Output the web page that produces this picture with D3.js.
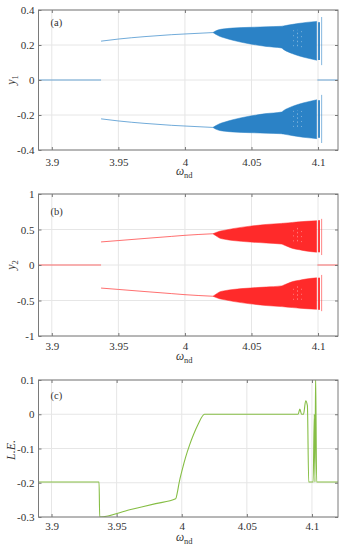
<!DOCTYPE html>
<html>
<head>
<meta charset="utf-8">
<script src="https://cdn.jsdelivr.net/npm/d3@7"></script>
<style>
  body { margin: 0; background: #fff; }
  svg text { font-family: "Liberation Serif", "Times New Roman", serif; fill: #333; }
</style>
</head>
<body>
<svg id="chart" width="346" height="550"></svg>
<script>
// x ticks shared by the three panels
const xTicks = [3.9, 3.95, 4, 4.05, 4.1];
const xTickLabels = ["3.9", "3.95", "4", "4.05", "4.1"];

// segments lying on y = 0 (stable equilibrium)
const zeroStart = [3.89, 4.0995];
const zeroEnd = [3.937, 4.115];

// period-1 branch
const branchW = [3.937, 3.95, 3.97, 3.99, 4.0, 4.021];
const branchA_up = [0.222, 0.234, 0.248, 0.259, 0.263, 0.271];
const branchA_lo = [-0.222, -0.234, -0.248, -0.259, -0.263, -0.271];
const branchB_up = [0.325, 0.344, 0.374, 0.403, 0.418, 0.44];
const branchB_lo = [-0.325, -0.344, -0.374, -0.403, -0.418, -0.44];

// quasi-periodic / chaotic band envelopes
const bandW = [4.021, 4.023, 4.026, 4.03, 4.036, 4.049, 4.061, 4.0725, 4.074, 4.081, 4.086, 4.091, 4.099];
const bandA_upTop = [0.271, 0.280, 0.288, 0.293, 0.297, 0.301, 0.304, 0.307, 0.309, 0.318, 0.324, 0.329, 0.335];
const bandA_upBot = [0.271, 0.262, 0.250, 0.240, 0.227, 0.206, 0.192, 0.183, 0.175, 0.150, 0.137, 0.127, 0.113];
const bandA_loTop = [-0.271, -0.262, -0.250, -0.240, -0.227, -0.206, -0.192, -0.183, -0.175, -0.150, -0.137, -0.127, -0.113];
const bandA_loBot = [-0.271, -0.280, -0.288, -0.293, -0.297, -0.301, -0.304, -0.307, -0.309, -0.318, -0.324, -0.329, -0.335];
const bandB_upTop = [0.44, 0.455, 0.475, 0.49, 0.512, 0.547, 0.571, 0.586, 0.588, 0.600, 0.608, 0.615, 0.624];
const bandB_upBot = [0.44, 0.415, 0.38, 0.362, 0.345, 0.324, 0.310, 0.295, 0.285, 0.233, 0.215, 0.197, 0.181];
const bandB_loTop = [-0.44, -0.415, -0.38, -0.362, -0.345, -0.324, -0.310, -0.295, -0.285, -0.233, -0.215, -0.197, -0.181];
const bandB_loBot = [-0.44, -0.455, -0.475, -0.49, -0.512, -0.547, -0.571, -0.586, -0.588, -0.600, -0.608, -0.615, -0.624];

// isolated columns past the band
const tailW = [4.1005, 4.101, 4.1027];
const tailA_hi = [0.33, 0.33, 0.36];
const tailA_lo = [0.115, 0.115, 0.085];
const tailB_hi = [0.63, 0.63, 0.65];
const tailB_lo = [0.18, 0.18, 0.14];

// missing samples inside the band (white dotted columns)
const gapW = [4.0815, 4.0845, 4.0875];

// largest Lyapunov exponent
const leW = [3.89, 3.9365, 3.937, 3.96, 3.98, 3.9953, 3.9968, 3.998, 4.0005, 4.003, 4.006, 4.009, 4.0125, 4.0175,
  4.0894, 4.0907, 4.092, 4.0935, 4.0952, 4.0965, 4.0975, 4.1009, 4.1018, 4.1023, 4.1028, 4.1036, 4.12];
const leV = [-0.198, -0.198, -0.3, -0.279, -0.261, -0.247, -0.225, -0.2, -0.16, -0.125, -0.09, -0.06, -0.03, 0,
  0, 0.015, 0, 0, 0.039, 0.025, -0.198, -0.198, 0, -0.198, 0.12, -0.198, -0.198];

const blue = "#2b82c6", red = "#ff2a2a", green = "#86be45";
const svg = d3.select("#chart");
const L = 38.5, R = 338;

function panel(o) {
    const x = d3.scaleLinear().domain(o.xDomain).range([L, R]);
    const y = d3.scaleLinear().domain(o.yDomain).range([o.bottom, o.top]);
    const g = svg.append("g");

    g.append("clipPath").attr("id", "clip" + o.name)
      .append("rect")
        .attr("x", L).attr("y", o.top)
        .attr("width", R - L).attr("height", o.bottom - o.top);

    // grid
    g.selectAll(".gx").data(xTicks).enter().append("line")
        .attr("x1", d => x(d)).attr("x2", d => x(d))
        .attr("y1", o.top).attr("y2", o.bottom)
        .attr("stroke", "#e6e6e6").attr("stroke-width", 1);
    g.selectAll(".gy").data(o.yTicks).enter().append("line")
        .attr("x1", L).attr("x2", R)
        .attr("y1", d => y(d)).attr("y2", d => y(d))
        .attr("stroke", "#e6e6e6").attr("stroke-width", 1);

    const plot = g.append("g").attr("clip-path", "url(#clip" + o.name + ")");
    o.draw(plot, x, y);

    // axes, MATLAB style: inward ticks on all four sides
    const fmtX = d => xTickLabels[xTicks.indexOf(d)];
    const fmtY = d => o.yTickLabels[o.yTicks.indexOf(d)];
    const ax = [
        g.append("g").attr("transform", `translate(0,${o.bottom})`)
            .call(d3.axisBottom(x).tickValues(xTicks).tickFormat(fmtX).tickSizeInner(-3).tickSizeOuter(0).tickPadding(o.xPad)),
        g.append("g").attr("transform", `translate(0,${o.top})`)
            .call(d3.axisTop(x).tickValues(xTicks).tickFormat("").tickSizeInner(-3).tickSizeOuter(0)),
        g.append("g").attr("transform", `translate(${L},0)`)
            .call(d3.axisLeft(y).tickValues(o.yTicks).tickFormat(fmtY).tickSizeInner(-3).tickSizeOuter(0).tickPadding(4)),
        g.append("g").attr("transform", `translate(${R},0)`)
            .call(d3.axisRight(y).tickValues(o.yTicks).tickFormat("").tickSizeInner(-3).tickSizeOuter(0))
    ];
    ax.forEach(a => {
        a.attr("font-family", null);
        a.select(".domain").remove();
        a.selectAll("line").attr("stroke", "#777");
        a.selectAll("text").attr("font-size", "11px").attr("fill", "#333");
    });

    g.append("rect")
        .attr("x", L).attr("y", o.top)
        .attr("width", R - L).attr("height", o.bottom - o.top)
        .attr("fill", "none").attr("stroke", "#7a7a7a").attr("stroke-width", 1);

    // panel tag
    g.append("text").attr("x", L + 12).attr("y", o.top + o.tagDy)
        .attr("font-size", "10.5px").text(o.tag);

    // x label
    const xl = g.append("text").attr("x", (L + R) / 2 - 4).attr("y", o.xLabelY)
        .attr("text-anchor", "middle").attr("font-size", "11.5px");
    xl.append("tspan").attr("font-style", "italic").text("ω");
    xl.append("tspan").attr("font-size", "8.5px").attr("dy", 3).text("nd");

    // y label
    const yl = g.append("text")
        .attr("transform", `translate(15,${o.yLabelC}) rotate(-90)`)
        .attr("text-anchor", "middle").attr("font-size", "12px");
    o.yLabel(yl);
}

function bifDraw(colour, bUp, bLo, upTop, upBot, loTop, loBot, tHi, tLo) {
    return function (plot, x, y) {
        zeroStart.forEach((s, i) => {
            plot.append("line")
                .attr("x1", x(s)).attr("x2", x(zeroEnd[i]))
                .attr("y1", y(0)).attr("y2", y(0))
                .attr("stroke", colour).attr("stroke-width", 0.9).attr("opacity", 0.75);
        });
        const ln = d3.line().x(d => x(d[0])).y(d => y(d[1])).curve(d3.curveMonotoneX);
        [bUp, bLo].forEach(b => {
            plot.append("path").attr("d", ln(branchW.map((w, i) => [w, b[i]])))
                .attr("fill", "none").attr("stroke", colour).attr("stroke-width", 0.9).attr("opacity", 0.75);
        });
        const ar = d3.area().x(d => x(d[0])).y0(d => y(d[1])).y1(d => y(d[2])).curve(d3.curveMonotoneX);
        [[upBot, upTop], [loBot, loTop]].forEach(([lo, hi]) => {
            plot.append("path").attr("d", ar(bandW.map((w, i) => [w, lo[i], hi[i]])))
                .attr("fill", colour).attr("stroke", colour).attr("stroke-width", 0.5);
        });
        // missing-sample columns
        gapW.forEach((w, k) => {
            const i = d3.bisectLeft(bandW, w);
            [[upBot[i], upTop[i]], [loBot[i], loTop[i]]].forEach(([lo, hi]) => {
                plot.append("line")
                    .attr("x1", x(w)).attr("x2", x(w))
                    .attr("y1", y(lo + 0.3 * (hi - lo))).attr("y2", y(hi - 0.2 * (hi - lo)))
                    .attr("stroke", "#fff").attr("stroke-width", 0.6).attr("opacity", 0.7)
                    .attr("stroke-dasharray", k === 1 ? "1.5,2.5" : "1,4");
            });
        });
        // isolated columns
        tailW.forEach((w, i) => {
            [[tLo[i], tHi[i]], [-tLo[i], -tHi[i]]].forEach(([a, b]) => {
                plot.append("line")
                    .attr("x1", x(w)).attr("x2", x(w))
                    .attr("y1", y(a)).attr("y2", y(b))
                    .attr("stroke", colour).attr("stroke-width", i === 2 ? 0.8 : 1.1)
                    .attr("opacity", i === 2 ? 0.7 : 1);
            });
        });
    };
}

panel({
    name: "a", top: 10, bottom: 150, xDomain: [3.89, 4.115], yDomain: [-0.4, 0.4],
    yTicks: [-0.4, -0.2, 0, 0.2, 0.4], yTickLabels: ["-0.4", "-0.2", "0", "0.2", "0.4"],
    xPad: 8, xLabelY: 175, yLabelC: 80, tag: "(a)", tagDy: 16,
    yLabel: t => { t.append("tspan").attr("font-style", "italic").text("y");
                   t.append("tspan").attr("font-size", "8.5px").attr("dy", 3).text("1"); },
    draw: bifDraw(blue, branchA_up, branchA_lo, bandA_upTop, bandA_upBot, bandA_loTop, bandA_loBot, tailA_hi, tailA_lo)
});

panel({
    name: "b", top: 194, bottom: 336, xDomain: [3.89, 4.115], yDomain: [-1, 1],
    yTicks: [-1, -0.5, 0, 0.5, 1], yTickLabels: ["-1", "-0.5", "0", "0.5", "1"],
    xPad: 6, xLabelY: 360, yLabelC: 265, tag: "(b)", tagDy: 21,
    yLabel: t => { t.append("tspan").attr("font-style", "italic").text("y");
                   t.append("tspan").attr("font-size", "8.5px").attr("dy", 3).text("2"); },
    draw: bifDraw(red, branchB_up, branchB_lo, bandB_upTop, bandB_upBot, bandB_loTop, bandB_loBot, tailB_hi, tailB_lo)
});

panel({
    name: "c", top: 380, bottom: 517, xDomain: [3.89, 4.12], yDomain: [-0.3, 0.1],
    yTicks: [-0.3, -0.2, -0.1, 0, 0.1], yTickLabels: ["-0.3", "-0.2", "-0.1", "0", "0.1"],
    xPad: 5, xLabelY: 541, yLabelC: 450, tag: "(c)", tagDy: 19,
    yLabel: t => t.attr("font-style", "italic").text("L.E."),
    draw: function (plot, x, y) {
        const ln = d3.line().x((d, i) => x(leW[i])).y(d => y(d)).curve(d3.curveMonotoneX);
        plot.append("path").attr("d", ln(leV))
            .attr("fill", "none").attr("stroke", green).attr("stroke-width", 1.1);
    }
});
</script>
</body>
</html>
